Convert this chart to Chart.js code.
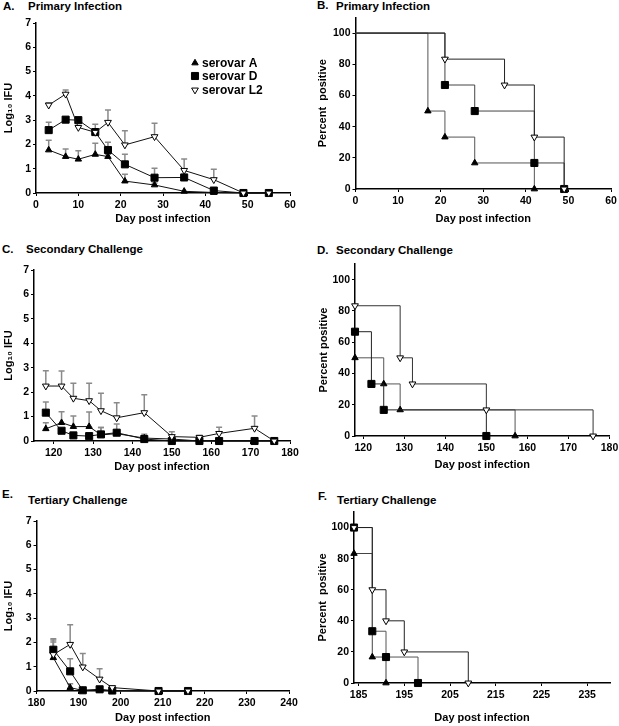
<!DOCTYPE html>
<html>
<head>
<meta charset="utf-8">
<script src="https://cdn.jsdelivr.net/npm/chart.js@4.4.1/dist/chart.umd.min.js"></script>
<style>
html, body { margin: 0; padding: 0; background: #fff; overflow: hidden; }
#fig { position: relative; width: 619px; height: 726px; }
#fig canvas { position: absolute; }
.ttl { position: absolute; font: bold 11.5px 'Liberation Sans', Arial, sans-serif; color: #000; white-space: nowrap; line-height: 14px; }
</style>
</head>
<body>
<div id="fig">
  <div class="ttl" style="left:3px; top:-1px">A.</div>
  <div class="ttl" style="left:28px; top:-1px">Primary Infection</div>
  <div class="ttl" style="left:317px; top:-2px">B.</div>
  <div class="ttl" style="left:336px; top:-1px">Primary Infection</div>
  <div class="ttl" style="left:2px; top:242px">C.</div>
  <div class="ttl" style="left:26px; top:242px">Secondary Challenge</div>
  <div class="ttl" style="left:317px; top:243px">D.</div>
  <div class="ttl" style="left:336px; top:243px">Secondary Challenge</div>
  <div class="ttl" style="left:2px; top:487px">E.</div>
  <div class="ttl" style="left:28px; top:493px">Tertiary Challenge</div>
  <div class="ttl" style="left:318px; top:489px">F.</div>
  <div class="ttl" style="left:337px; top:493px">Tertiary Challenge</div>
</div>
<script>
// ---- data ----
const seriesNames = ['serovar A', 'serovar D', 'serovar L2'];

// Primary infection, log10 IFU (mean + upper error)
const primDays = [3, 7, 10, 14, 17, 21, 28, 35, 42, 49, 55];
const primA    = [1.77, 1.5, 1.39, 1.59, 1.5, 0.49, 0.33, 0.07, 0.02, 0, 0];
const primAErr = [0.4, 0.31, 0.35, 0.46, 0.1, 0.28, 0.08, 0, 0, 0, 0];
const primD    = [2.59, 3.02, 3.0, 2.51, 1.77, 1.18, 0.63, 0.64, 0.1, 0, 0];
const primDErr = [0.32, 0, 0, 0.32, 0.32, 0.42, 0.39, 0, 0, 0, 0];
const primL    = [3.62, 4.07, 2.7, 2.5, 2.91, 1.98, 2.32, 0.93, 0.55, 0, 0];
const primLErr = [0.1, 0.17, 0, 0, 0.51, 0.58, 0.55, 0.47, 0.43, 0, 0];

// Secondary challenge
const secDays = [118, 122, 125, 129, 132, 136, 143, 150, 157, 162, 171, 176];
const secA    = [0.5, 0.75, 0.59, 0.59, 0.25, 0.3, 0.12, 0.08, 0, 0, 0, 0];
const secAErr = [0.25, 0.45, 0.43, 0.6, 0.3, 0.05, 0.16, 0, 0, 0, 0, 0];
const secD    = [1.16, 0.42, 0.23, 0.2, 0.27, 0.34, 0.08, 0, 0, 0, 0, 0];
const secDErr = [0.44, 0, 0, 0.11, 0.28, 0.36, 0, 0, 0, 0, 0, 0];
const secL    = [2.25, 2.25, 1.75, 1.65, 1.24, 0.95, 1.16, 0.18, 0.15, 0.31, 0.52, 0];
const secLErr = [0.63, 0.62, 0.61, 0.71, 0.71, 0.62, 0.73, 0.2, 0.08, 0.25, 0.5, 0];

// Tertiary challenge
const terDays = [184, 188, 191, 195, 198, 209, 216];
const terA    = [1.37, 0.14, 0.02, 0.04, 0, 0, 0];
const terAErr = [0.65, 0.16, 0, 0, 0, 0, 0];
const terD    = [1.7, 0.81, 0.03, 0.07, 0.02, 0, 0];
const terDErr = [0.45, 0.52, 0, 0, 0, 0, 0];
const terL    = [1.5, 1.92, 0.99, 0.49, 0.14, 0, 0];
const terLErr = [0.6, 0.81, 0.55, 0.43, 0.06, 0, 0];

// Percent positive (Kaplan-Meier style steps)
const kmPrimDaysA = [0, 17, 21, 28, 42];
const kmPrimA     = [100, 50, 33.3, 16.7, 0];
const kmPrimDaysD = [0, 21, 28, 42, 49];
const kmPrimD     = [100, 66.7, 50, 16.7, 0];
const kmPrimDaysL = [0, 21, 35, 42, 49];
const kmPrimL     = [100, 83.3, 66.7, 33.3, 0];

const kmSecDaysA = [118, 125, 129, 157];
const kmSecA     = [50, 33.3, 16.7, 0];
const kmSecDaysD = [118, 122, 125, 150];
const kmSecD     = [66.7, 33.3, 16.7, 0];
const kmSecDaysL = [118, 129, 132, 150, 176];
const kmSecL     = [83.3, 50, 33.3, 16.7, 0];

const kmTerDaysA = [184, 188, 191];
const kmTerA     = [83.3, 16.7, 0];
const kmTerDaysD = [184, 188, 191, 198];
const kmTerD     = [100, 33.3, 16.7, 0];
const kmTerDaysL = [184, 188, 191, 195, 209];
const kmTerL     = [100, 60, 40, 20, 0];

// tick labels
const ifuTicks     = [0, 1, 2, 3, 4, 5, 6, 7];
const pctTicks     = [0, 20, 40, 60, 80, 100];
const primDayTicks = [0, 10, 20, 30, 40, 50, 60];
const secDayTicks  = [120, 130, 140, 150, 160, 170, 180];
const terDayTicks  = [180, 190, 200, 210, 220, 230, 240];
const terKmTicks   = [185, 195, 205, 215, 225, 235];

// ---- style ----
const FONT = "'Liberation Sans', Arial, Helvetica, sans-serif";
Chart.defaults.font.family = FONT;
Chart.defaults.font.size = 10.5;
Chart.defaults.font.weight = 'bold';
Chart.defaults.color = '#000';

const MARK = [
    { pointStyle: 'triangle', rot: 0,   r: 3.7, bg: '#000', order: 2 },  // A
    { pointStyle: 'rect',     rot: 0,   r: 5,   bg: '#000', order: 1 },  // D
    { pointStyle: 'triangle', rot: 180, r: 3.9, bg: '#fff', order: 0 }   // L2
];

function series(k, xs, ys, opt) {
    const m = MARK[k];
    return {
        label: seriesNames[k],
        data: xs.map((x, i) => ({ x: x, y: ys[i] })),
        showLine: true,
        stepped: opt.stepped ? 'before' : false,
        borderColor: opt.lineColor || '#111',
        borderWidth: 1,
        pointStyle: m.pointStyle,
        pointRotation: m.rot,
        pointRadius: c => (opt.noFirst && c.dataIndex === 0) ? 0 : m.r,
        pointBackgroundColor: m.bg,
        pointBorderColor: '#000',
        pointBorderWidth: 1,
        errUp: opt.err || null,
        clip: false,
        order: m.order
    };
}

// upper-only error bars, drawn behind the lines and markers
const errorBars = {
    id: 'errorBars',
    beforeDatasetsDraw(chart) {
        const ctx = chart.ctx;
        const xs = chart.scales.x, ys = chart.scales.y;
        ctx.save();
        ctx.strokeStyle = '#8a8a8a';
        ctx.lineWidth = 1.5;
        chart.data.datasets.forEach(ds => {
            if (!ds.errUp) return;
            ds.data.forEach((p, i) => {
                const e = ds.errUp[i];
                if (!e) return;
                const px = xs.getPixelForValue(p.x);
                const y0 = ys.getPixelForValue(p.y);
                const y1 = ys.getPixelForValue(p.y + e);
                ctx.beginPath();
                ctx.moveTo(px, y0);
                ctx.lineTo(px, y1);
                ctx.moveTo(px - 3, y1);
                ctx.lineTo(px + 3, y1);
                ctx.stroke();
            });
        });
        ctx.restore();
    }
};

function drawMark(ctx, k, x, y) {
    const m = MARK[k];
    ctx.beginPath();
    if (m.pointStyle === 'rect') {
        const s = Math.SQRT1_2 * m.r;
        ctx.rect(x - s, y - s, 2 * s, 2 * s);
    } else {
        let rad = m.rot * Math.PI / 180;
        for (let i = 0; i < 3; i++) {
            const px = x + Math.sin(rad) * m.r, py = y - Math.cos(rad) * m.r;
            if (i === 0) ctx.moveTo(px, py); else ctx.lineTo(px, py);
            rad += 2 * Math.PI / 3;
        }
        ctx.closePath();
    }
    ctx.fillStyle = m.bg;
    ctx.fill();
    ctx.strokeStyle = '#000';
    ctx.lineWidth = 1;
    ctx.stroke();
}

// legend inside panel A
function legendPlugin(g) {
    const rows = [63, 76, 90];
    return {
        id: 'legendA',
        afterDraw(chart) {
            const ctx = chart.ctx;
            ctx.save();
            ctx.font = 'bold 12px ' + FONT;
            ctx.textBaseline = 'middle';
            seriesNames.forEach((name, k) => {
                const y = rows[k] - g.top;
                drawMark(ctx, k, 195 - g.left, y);
                ctx.fillStyle = '#000';
                ctx.fillText(name, 202 - g.left, y + 0.5);
            });
            ctx.restore();
        }
    };
}

function panel(g, xr, yr, datasets, yTitle, plugins) {
    const cv = document.createElement('canvas');
    cv.width = g.width;
    cv.height = g.height;
    cv.style.left = g.left + 'px';
    cv.style.top = g.top + 'px';
    document.getElementById('fig').appendChild(cv);
    const lh = 11 * 1.2;
    const bottom = g.top + g.height;
    const axisBase = {
        type: 'linear',
        grid: { display: true, drawOnChartArea: false, drawTicks: true, tickLength: 3, color: '#000', lineWidth: 1 },
        border: { display: true, color: '#000', width: 1.5 }
    };
    new Chart(cv, {
        type: 'scatter',
        data: { datasets: datasets },
        options: {
            responsive: false,
            animation: false,
            devicePixelRatio: 1,
            events: [],
            layout: { padding: { top: g.aT - g.top, right: g.left + g.width - g.aR, left: 0, bottom: 0 } },
            plugins: { legend: { display: false }, tooltip: { enabled: false }, title: { display: false } },
            scales: {
                x: Object.assign({}, axisBase, {
                    min: xr.min, max: xr.max,
                    afterBuildTicks: s => { s.ticks = xr.ticks.map(v => ({ value: v })); },
                    afterFit: s => { s.height = bottom - g.aB; },
                    ticks: { padding: 3, maxRotation: 0, autoSkip: false },
                    title: { display: true, text: 'Day post infection', font: { size: 11, weight: 'bold' },
                             padding: { top: 0, bottom: bottom - g.xT - lh / 2 } }
                }),
                y: Object.assign({}, axisBase, {
                    min: yr.min, max: yr.max,
                    afterBuildTicks: s => { s.ticks = yr.ticks.map(v => ({ value: v })); },
                    afterFit: s => { s.width = g.aL - g.left; },
                    ticks: { padding: 2 },
                    title: { display: true, text: yTitle, font: { size: 11, weight: 'bold' },
                             padding: { top: g.yT - g.left - lh / 2, bottom: 0 } }
                })
            }
        },
        plugins: plugins || []
    });
}

const ifuTitle = 'Log\u2081\u2080 IFU';

// A
const gA = { left: 0, top: 12, width: 300, height: 222, aL: 36, aT: 23, aR: 290, aB: 193, xT: 219, yT: 9 };
panel(gA, { min: 0, max: 60, ticks: primDayTicks }, { min: 0, max: 7, ticks: ifuTicks }, [
    series(0, primDays, primA, { err: primAErr }),
    series(1, primDays, primD, { err: primDErr }),
    series(2, primDays, primL, { err: primLErr })
], ifuTitle, [errorBars, legendPlugin(gA)]);

// B
panel({ left: 310, top: 8, width: 314, height: 226, aL: 355.5, aT: 17.5, aR: 611, aB: 189, xT: 219, yT: 323 },
    { min: 0, max: 60, ticks: primDayTicks }, { min: 0, max: 110, ticks: pctTicks }, [
    series(0, kmPrimDaysA, kmPrimA, { stepped: true, noFirst: true, lineColor: '#555' }),
    series(1, kmPrimDaysD, kmPrimD, { stepped: true, noFirst: true, lineColor: '#444' }),
    series(2, kmPrimDaysL, kmPrimL, { stepped: true, noFirst: true, lineColor: '#222' })
], 'Percent  positive');

// C
panel({ left: 0, top: 258, width: 302, height: 218, aL: 34, aT: 270, aR: 290, aB: 441, xT: 467, yT: 9 },
    { min: 115, max: 180, ticks: secDayTicks }, { min: 0, max: 7, ticks: ifuTicks }, [
    series(0, secDays, secA, { err: secAErr }),
    series(1, secDays, secD, { err: secDErr }),
    series(2, secDays, secL, { err: secLErr })
], ifuTitle, [errorBars]);

// D
panel({ left: 310, top: 255, width: 314, height: 221, aL: 355, aT: 264, aR: 609.5, aB: 436, xT: 465, yT: 324 },
    { min: 118, max: 180, ticks: secDayTicks }, { min: 0, max: 110, ticks: pctTicks }, [
    series(0, kmSecDaysA, kmSecA, { stepped: true, lineColor: '#555' }),
    series(1, kmSecDaysD, kmSecD, { stepped: true, lineColor: '#222' }),
    series(2, kmSecDaysL, kmSecL, { stepped: true, lineColor: '#333' })
], 'Percent positive');

// E
panel({ left: 0, top: 508, width: 301, height: 218, aL: 36.5, aT: 521, aR: 289, aB: 691, xT: 718, yT: 9 },
    { min: 180, max: 240, ticks: terDayTicks }, { min: 0, max: 7, ticks: ifuTicks }, [
    series(0, terDays, terA, { err: terAErr }),
    series(1, terDays, terD, { err: terDErr }),
    series(2, terDays, terL, { err: terLErr })
], ifuTitle, [errorBars]);

// F
panel({ left: 310, top: 500, width: 314, height: 226, aL: 354, aT: 512, aR: 610, aB: 683, xT: 718, yT: 323 },
    { min: 184, max: 240, ticks: terKmTicks }, { min: 0, max: 110, ticks: pctTicks }, [
    series(0, kmTerDaysA, kmTerA, { stepped: true, lineColor: '#444' }),
    series(1, kmTerDaysD, kmTerD, { stepped: true, lineColor: '#555' }),
    series(2, kmTerDaysL, kmTerL, { stepped: true, lineColor: '#222' })
], 'Percent  positive');
</script>
</body>
</html>
